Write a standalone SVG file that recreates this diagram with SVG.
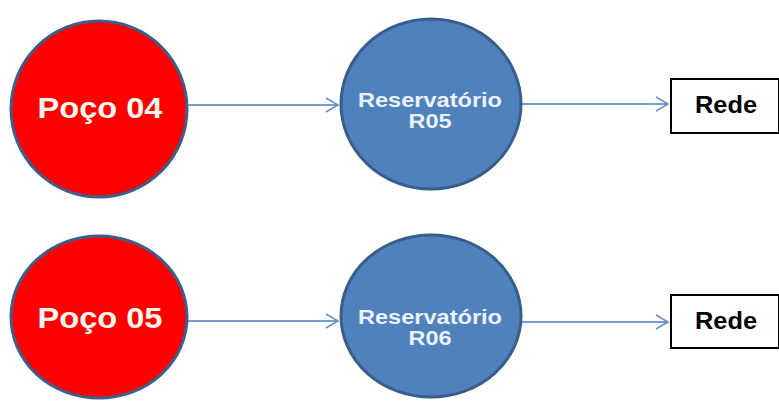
<svg xmlns="http://www.w3.org/2000/svg" width="779" height="401" viewBox="0 0 779 401">
<style>
.poco{fill:#FF0000;stroke:#3B5E8A;stroke-width:3}
.res{fill:#4F81BD;stroke:#385D8A;stroke-width:3}
.box{fill:#FFFFFF;stroke:#000000;stroke-width:2}
.t{font-family:"Liberation Sans",Arial,sans-serif;font-weight:bold;text-anchor:middle}
.tp{fill:#FFF8F0;font-size:30px}
.tr{fill:#EAF2FB;font-size:20px}
.tb{fill:#000000;font-size:23px}
.c{stroke:#4A7EBB;stroke-width:1.5;fill:none}
</style>
<defs>
<marker id="arr" markerWidth="16" markerHeight="20" refX="14" refY="10" orient="auto" markerUnits="userSpaceOnUse">
<path d="M2,3 L14,10 L2,17" fill="none" stroke="#6A8FC0" stroke-width="1.5"/>
</marker>
</defs>
<g id="connectors">
<line class="c" x1="188" y1="105" x2="338" y2="105" marker-end="url(#arr)"/>
<line class="c" x1="521" y1="104" x2="668" y2="104" marker-end="url(#arr)"/>
<line class="c" x1="188" y1="321" x2="338" y2="321" marker-end="url(#arr)"/>
<line class="c" x1="521" y1="322" x2="668" y2="322" marker-end="url(#arr)"/>
</g>
<g id="poco04">
<ellipse class="poco" cx="99" cy="109" rx="88" ry="88"/>
<text class="t tp" x="100" y="118" textLength="125" lengthAdjust="spacingAndGlyphs">Poço 04</text>
</g>
<g id="res05">
<ellipse class="res" cx="431" cy="104" rx="90" ry="85"/>
<text class="t tr" x="430" y="107" textLength="144" lengthAdjust="spacingAndGlyphs">Reservatório</text>
<text class="t tr" x="430" y="128" textLength="43" lengthAdjust="spacingAndGlyphs">R05</text>
</g>
<g id="rede1">
<rect class="box" x="671" y="79" width="108" height="54"/>
<text class="t tb" x="726" y="113" textLength="62" lengthAdjust="spacingAndGlyphs">Rede</text>
</g>
<g id="poco05">
<ellipse class="poco" cx="99" cy="317" rx="88" ry="81"/>
<text class="t tp" x="100" y="328" textLength="125" lengthAdjust="spacingAndGlyphs">Poço 05</text>
</g>
<g id="res06">
<ellipse class="res" cx="431" cy="316" rx="90" ry="81"/>
<text class="t tr" x="430" y="324" textLength="144" lengthAdjust="spacingAndGlyphs">Reservatório</text>
<text class="t tr" x="430" y="345" textLength="43" lengthAdjust="spacingAndGlyphs">R06</text>
</g>
<g id="rede2">
<rect class="box" x="671" y="295" width="108" height="53"/>
<text class="t tb" x="726" y="329" textLength="62" lengthAdjust="spacingAndGlyphs">Rede</text>
</g>
</svg>
